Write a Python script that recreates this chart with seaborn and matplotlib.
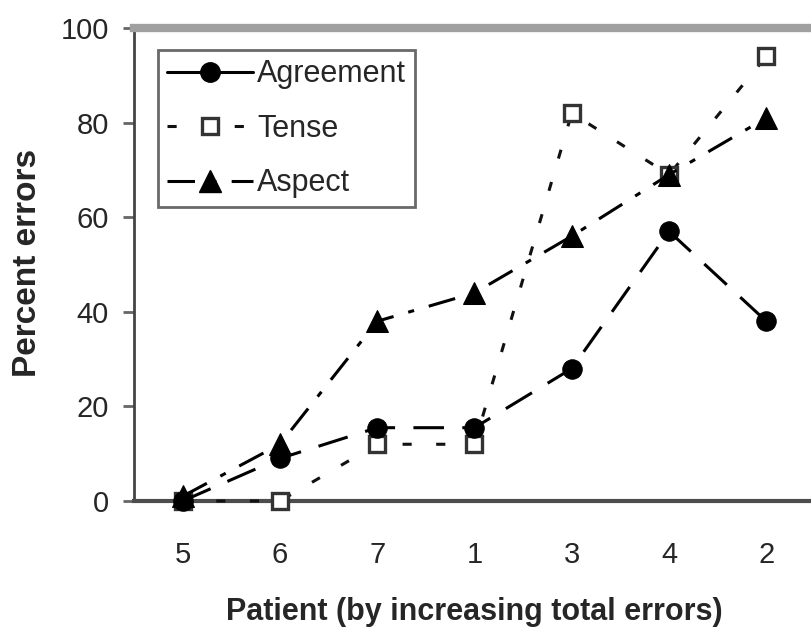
import numpy as np
import pandas as pd
import matplotlib
matplotlib.use('Agg')
import matplotlib.pyplot as plt
from matplotlib.lines import Line2D
import seaborn as sns

# patients ordered by increasing total errors
patients = ['5', '6', '7', '1', '3', '4', '2']
agreement = [0, 9, 15.5, 15.5, 28, 57, 38]
tense = [0, 0, 12, 12, 82, 69, 94]
aspect = [1, 12, 38, 44, 56, 69, 81]
y_ticks = [0, 20, 40, 60, 80, 100]

sns.set_style('white')
plt.rcParams['font.family'] = ['Liberation Sans', 'DejaVu Sans']

df = pd.DataFrame({'pos': np.arange(len(patients)), 'patient': patients,
                   'Agreement': agreement, 'Tense': tense, 'Aspect': aspect})

fig = plt.figure(figsize=(8.11, 6.42), dpi=100)
ax = fig.add_axes([0.1652, 0.2196, 0.8397, 0.7368])

sns.lineplot(data=df, x='pos', y='Agreement', ax=ax, color='black', lw=2.2,
             linestyle=(0, (10, 6)), marker='o', markersize=14,
             markeredgecolor='black', clip_on=False, zorder=4)
sns.lineplot(data=df, x='pos', y='Tense', ax=ax, color='#111111', lw=2.2,
             linestyle=(0, (3, 8)), marker='s', markersize=12,
             markerfacecolor='white', markeredgecolor='#333333',
             markeredgewidth=2.4, clip_on=False, zorder=3)
sns.lineplot(data=df, x='pos', y='Aspect', ax=ax, color='black', lw=2.2,
             linestyle=(0, (9, 5, 2, 5)), marker='^', markersize=16,
             markeredgecolor='black', clip_on=False, zorder=5)

ax.set_xlim(-0.5, len(patients) - 0.5)
ax.set_ylim(0, 100)
ax.set_yticks(y_ticks)
ax.set_yticklabels([str(t) for t in y_ticks], fontsize=21)
ax.set_xticks(np.arange(len(patients) + 1) - 0.5)
ax.set_xticklabels([])
ax.set_xticks(np.arange(len(patients)), minor=True)
ax.set_xticklabels(patients, minor=True, fontsize=21)
ax.tick_params(axis='x', which='major', direction='out', length=9, width=2,
               color='#444444')
ax.tick_params(axis='x', which='minor', length=0, pad=29)
ax.tick_params(axis='y', direction='out', length=8, width=2, color='#666666',
               pad=10, left=True)

ax.set_xlabel('Patient (by increasing total errors)', fontsize=22,
              fontweight='bold')
ax.xaxis.set_label_coords(0.5, -0.235)
ax.set_ylabel('Percent errors', fontsize=24, fontweight='bold')
ax.yaxis.set_label_coords(-0.157, 0.503)
ax.xaxis.label.set_va('center')
ax.yaxis.label.set_va('center')

for side in ['left', 'bottom', 'top']:
    ax.spines[side].set_visible(True)
ax.spines['left'].set_color('#444444')
ax.spines['left'].set_linewidth(2)
ax.spines['bottom'].set_color('#4d4d4d')
ax.spines['bottom'].set_linewidth(3)
ax.spines['top'].set_color('#a0a0a0')
ax.spines['top'].set_linewidth(6)
ax.spines['right'].set_visible(False)

handles = [
    Line2D([], [], color='black', lw=2.2, linestyle='-', marker='o',
           markersize=14),
    Line2D([], [], color='#111111', lw=2.2, linestyle=(0, (3, 8)), marker='s',
           markersize=12, markerfacecolor='white', markeredgecolor='#333333',
           markeredgewidth=2.4),
    Line2D([], [], color='black', lw=2.2, linestyle=(0, (9, 5, 2, 5)),
           marker='^', markersize=16),
]
leg = ax.legend(handles, ['Agreement', 'Tense', 'Aspect'], loc='upper left',
                bbox_to_anchor=(0.035, 0.953), fontsize=22, frameon=True,
                fancybox=False, borderpad=0.3, handlelength=2.8,
                handletextpad=0.15, labelspacing=0.8, borderaxespad=0)
leg.get_frame().set_edgecolor('#444444')
leg.get_frame().set_linewidth(2)

fig.savefig('out.png', dpi=100)
